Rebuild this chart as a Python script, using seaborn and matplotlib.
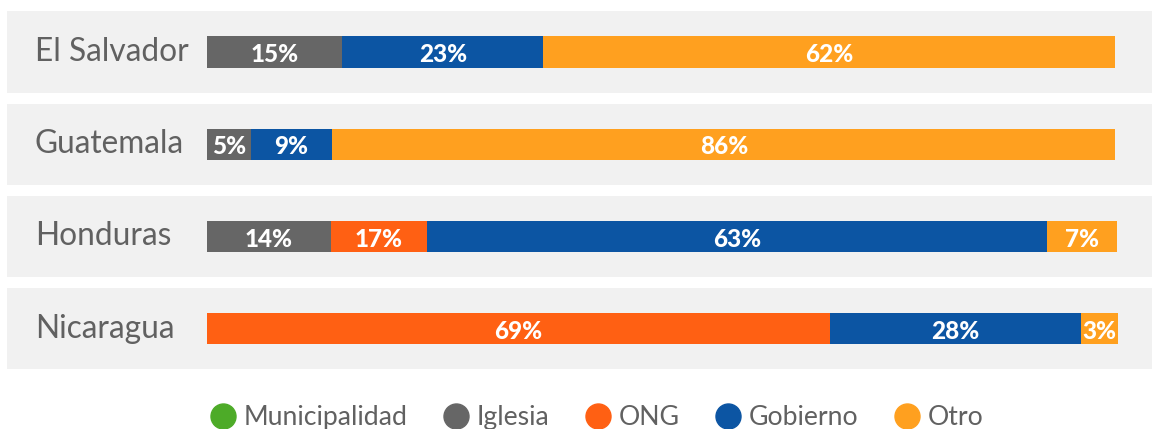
import pandas as pd
import numpy as np
import matplotlib
matplotlib.use("Agg")
import matplotlib.pyplot as plt
from matplotlib.lines import Line2D
import seaborn as sns

# ---------------------------------------------------------
# Data (bar lengths, labels as printed)
# ---------------------------------------------------------
paises = ["El Salvador", "Guatemala", "Honduras", "Nicaragua"]
categorias = ["Municipalidad", "Iglesia", "ONG", "Gobierno", "Otro"]

municipalidad = [0.0, 0.0, 0.0, 0.0]
iglesia = [14.9, 4.8, 13.6, 0.0]
ong = [0.0, 0.0, 10.6, 68.5]
gobierno = [22.1, 9.0, 68.2, 27.7]
otro = [62.9, 86.1, 7.7, 4.0]

lbl_municipalidad = ["", "", "", ""]
lbl_iglesia = ["15%", "5%", "14%", ""]
lbl_ong = ["", "", "17%", "69%"]
lbl_gobierno = ["23%", "9%", "63%", "28%"]
lbl_otro = ["62%", "86%", "7%", "3%"]

colores = ["#4dab28", "#666666", "#ff6013", "#0c55a3", "#ffa01f"]

# ---------------------------------------------------------
# Prepare cumulative table
# ---------------------------------------------------------
valores = pd.DataFrame(
    {"Municipalidad": municipalidad, "Iglesia": iglesia, "ONG": ong,
     "Gobierno": gobierno, "Otro": otro},
    index=paises,
)
etiquetas = pd.DataFrame(
    {"Municipalidad": lbl_municipalidad, "Iglesia": lbl_iglesia, "ONG": lbl_ong,
     "Gobierno": lbl_gobierno, "Otro": lbl_otro},
    index=paises,
)
acumulado = valores.cumsum(axis=1)

plt.rcParams["font.family"] = ["Lato", "DejaVu Sans"]

fig = plt.figure(figsize=(11.52, 4.29), dpi=100)
ax = fig.add_axes([0, 0, 1, 1])

# pixel mapping: 0% at x=207px, 100% at x=1116px
px = 9.09
x_left = -207 / px
x_right = (1152 - 207) / px

# grey bands behind each row
for i in range(len(paises)):
    ax.axhspan(i - 0.44, i + 0.44, xmin=7 / 1152, xmax=1, color="#f1f1f1", zorder=0, lw=0)

# stacked bars: draw cumulative totals from the last category back to the first
for cat, col in reversed(list(zip(categorias, colores))):
    d = pd.DataFrame({"pais": paises, "valor": acumulado[cat].values})
    sns.barplot(data=d, x="valor", y="pais", color=col, width=0.337,
                errorbar=None, orient="h", linewidth=0, saturation=1,
                ax=ax, zorder=2)

# segment labels
for i, p in enumerate(paises):
    start = 0.0
    for cat in categorias:
        w = valores.loc[p, cat]
        txt = etiquetas.loc[p, cat]
        if txt:
            ax.text(start + w / 2, i + 0.03, txt, ha="center", va="center",
                    color="white", fontsize=17.5, fontweight="black", zorder=3)
        start += w
    ax.text(-172 / px, i, p, ha="left", va="center", color="#616161",
            fontsize=22.8, zorder=3)

ax.set_xlim(x_left, x_right)
top = -52 / 92.2
bottom = (429 - 52) / 92.2
ax.set_ylim(bottom, top)
ax.axis("off")

handles = [Line2D([], [], marker="o", linestyle="", markersize=18,
                  markerfacecolor=c, markeredgecolor=c) for c in colores]
fig.legend(handles, categorias, loc="center", bbox_to_anchor=(0.518, 0.026),
           ncol=5, frameon=False, fontsize=19.2, handlelength=0.95,
           handletextpad=0.3, columnspacing=1.35, labelcolor="#616161",
           borderaxespad=0, borderpad=0)

fig.savefig("out.png", dpi=100)
plt.close()
